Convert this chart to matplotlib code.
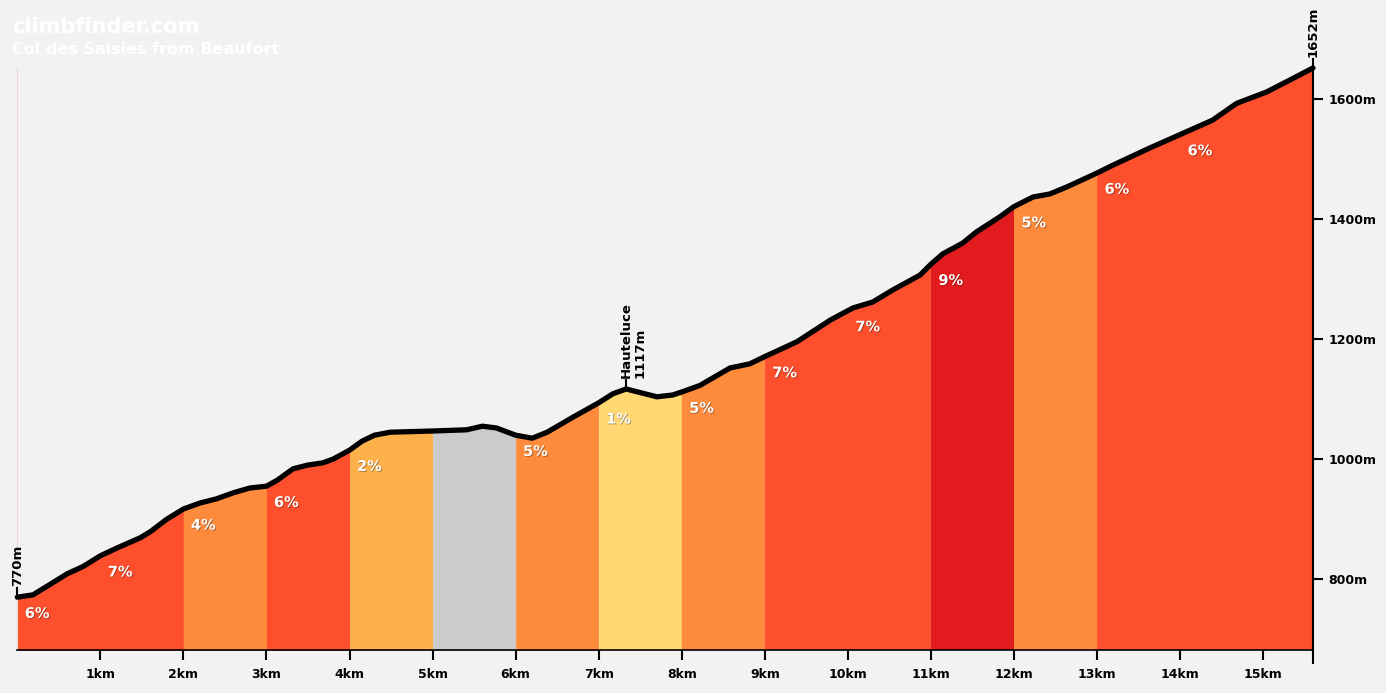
import numpy as np
import matplotlib
matplotlib.use('Agg')
from matplotlib import pyplot as plt
import matplotlib.patheffects as pe

# profile (km, m)
dist = [0.0, 0.19, 0.39, 0.60, 0.79, 1.0, 1.2, 1.48, 1.6, 1.8, 2.0, 2.2, 2.4, 2.6, 2.8, 3.0,
        3.13, 3.32, 3.49, 3.68, 3.8, 4.0, 4.15, 4.3, 4.49, 5.0, 5.41, 5.6, 5.77, 6.0, 6.2,
        6.38, 6.69, 7.0, 7.17, 7.33, 7.5, 7.7, 7.89, 8.0, 8.22, 8.58, 8.82, 9.0, 9.39,
        9.79, 10.06, 10.3, 10.54, 10.87, 11.0, 11.14, 11.38, 11.55, 11.83, 12.0, 12.23,
        12.43, 12.64, 13.0, 13.19, 13.64, 14.08, 14.39, 14.68, 15.04, 15.28, 15.6]
elev = [770, 774, 791, 809, 821, 839, 852, 869, 879, 900, 917, 927, 934, 944, 952, 955,
        965, 984, 990, 994, 1000, 1015, 1030, 1040, 1045, 1047, 1049, 1055, 1052, 1040, 1035,
        1045, 1070, 1094, 1109, 1117, 1111, 1104, 1107, 1112, 1123, 1152, 1159, 1171, 1196,
        1232, 1252, 1262, 1282, 1307, 1325, 1342, 1360, 1379, 1404, 1421, 1437,
        1442, 1454, 1477, 1490, 1519, 1546, 1565, 1593, 1612, 1629, 1652]

seg_start = [0, 2, 3, 4, 5, 6, 7, 8, 9, 11, 12, 13]
seg_end   = [2, 3, 4, 5, 6, 7, 8, 9, 11, 12, 13, 15.6]
seg_color = ['#FE4F2C', '#FE8B3C', '#FE4F2C', '#FEB04B', '#CBCBCB', '#FE8B3C',
             '#FFD874', '#FE8B3C', '#FE4F2C', '#E21C1E', '#FE8B3C', '#FE4F2C']

grade_km  = [0, 1, 2, 3, 4, 6, 7, 8, 9, 10, 11, 12, 13, 14]
grade_txt = ['6%', '7%', '4%', '6%', '2%', '5%', '1%', '5%', '7%', '7%', '9%', '5%', '6%', '6%']

km_ticks  = [1, 2, 3, 4, 5, 6, 7, 8, 9, 10, 11, 12, 13, 14, 15]
m_ticks   = [800, 1000, 1200, 1400, 1600]

bg = '#F2F2F2'
plt.rcParams['font.family'] = 'DejaVu Sans'

fig = plt.figure(figsize=(13.86, 6.93), dpi=100, facecolor=bg)
ax = fig.add_axes([17.3/1386, 43/693, (1313-17.3)/1386, 582/693])
ax.set_facecolor(bg)

d = np.array(dist)
e = np.array(elev)
for s, t, c in zip(seg_start, seg_end, seg_color):
    m = (d >= s) & (d <= t)
    ax.fill_between(d[m], 0, e[m], color=c, lw=0, zorder=1)

ax.plot(d, e, color='black', lw=3.8, solid_capstyle='round', solid_joinstyle='round',
        zorder=3, clip_on=False)

shadow = [pe.withSimplePatchShadow(offset=(0.6, -0.6), shadow_rgbFace='black', alpha=0.35)]
for k, txt in zip(grade_km, grade_txt):
    y0 = np.interp(k, d, e)
    ax.text(k + 0.24, y0 - 27, txt, color='white', fontsize=10.5, fontweight='bold',
            ha='center', va='center', zorder=4, path_effects=shadow)

# point markers: start, Hauteluce, top
def mark(x, y, lines, dx):
    ax.plot([x, x], [y + 2, y + 15], color='black', lw=1.5, clip_on=False, zorder=5)
    for i, s in enumerate(lines):
        ax.text(x + i * dx, y + 18, s, rotation=90, ha='center', va='bottom',
                fontsize=9.5, fontweight='bold', color='black', clip_on=False)

mark(0, 770, ['770m'], 0)
mark(7.33, 1117, ['Hauteluce', '1117m'], 0.17)
mark(15.6, 1652, ['1652m'], 0)

ax.set_xlim(0, 15.6)
ax.set_ylim(682, 1652)

ax.set_xticks(km_ticks)
ax.set_xticklabels([f'{k}km' for k in km_ticks], fontsize=9, fontweight='bold')
ax.set_xticks([15.6], minor=True)
ax.tick_params(axis='x', which='major', length=7, width=1.5, pad=6, color='black')
ax.tick_params(axis='x', which='minor', length=10, width=1.5, color='black')

ax.yaxis.tick_right()
ax.set_yticks(m_ticks)
ax.set_yticklabels([f'{m}m' for m in m_ticks], fontsize=9, fontweight='bold')
ax.tick_params(axis='y', length=7, width=1.5, pad=4, color='black')

ax.spines['top'].set_visible(False)
ax.spines['left'].set_color('#EDD8D4')
ax.spines['left'].set_linewidth(0.8)
ax.spines['right'].set_linewidth(1.5)
ax.spines['bottom'].set_linewidth(1.2)

fig.text(12/1386, 1 - 27/693, 'climbfinder.com', color='white', fontsize=15,
         fontweight='bold', va='center', ha='left')
fig.text(12/1386, 1 - 50/693, 'Col des Saisies from Beaufort', color='white',
         fontsize=11.5, fontweight='bold', va='center', ha='left')

fig.savefig('out.png', dpi=100, facecolor=bg)
